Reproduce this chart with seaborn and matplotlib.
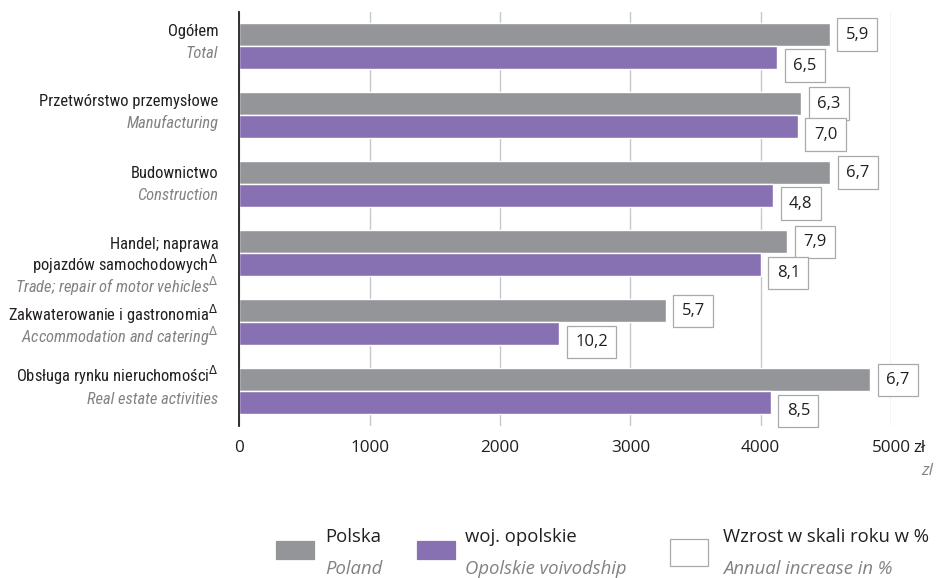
import matplotlib
matplotlib.use("Agg")
import matplotlib.pyplot as plt
from matplotlib import font_manager
from matplotlib.patches import Rectangle
import pandas as pd
import seaborn as sns

# --- data (average gross wages, zł) ---
labels_pl = [
    "Ogółem",
    "Przetwórstwo przemysłowe",
    "Budownictwo",
    "Handel; naprawa\npojazdów samochodowych$^{\\Delta}$",
    "Zakwaterowanie i gastronomia$^{\\Delta}$",
    "Obsługa rynku nieruchomości$^{\\Delta}$",
]
labels_en = [
    "Total",
    "Manufacturing",
    "Construction",
    "Trade; repair of motor vehicles$^{\\Delta}$",
    "Accommodation and catering$^{\\Delta}$",
    "Real estate activities",
]
polska = [4530, 4310, 4535, 4205, 3270, 4840]
opolskie = [4125, 4285, 4095, 4000, 2455, 4077]
growth_polska = [5.9, 6.3, 6.7, 7.9, 5.7, 6.7]
growth_opolskie = [6.5, 7.0, 4.8, 8.1, 10.2, 8.5]
series = ["Polska", "woj. opolskie"]
xticks = [0, 1000, 2000, 3000, 4000, 5000]

GRAY = "#939598"
PURPLE = "#8871b2"
DARK = "#231f20"
EN_GRAY = "#808285"

sns.set_style("white")
names = {f.name for f in font_manager.fontManager.ttflist}
narrow_choices = [n for n in ["Liberation Sans Narrow", "Arial Narrow", "Roboto Condensed",
                              "Open Sans Condensed"] if n in names]
if narrow_choices:
    NARROW, LABEL_SIZE = narrow_choices[0], 11.9
else:
    NARROW, LABEL_SIZE = "Liberation Sans", 10.7
plt.rcParams["font.family"] = ["Open Sans", "DejaVu Sans"]
plt.rcParams["mathtext.fontset"] = "dejavusans"

df = pd.DataFrame({
    "section": labels_pl * 2,
    "series": [series[0]] * len(polska) + [series[1]] * len(opolskie),
    "value": polska + opolskie,
})

fig, ax = plt.subplots(figsize=(9.36, 5.78), dpi=100)
fig.subplots_adjust(left=239.3 / 936, right=891 / 936, top=1 - 11.7 / 578, bottom=1 - 426 / 578)

sns.barplot(data=df, y="section", x="value", hue="series", orient="h",
            palette=[GRAY, PURPLE], saturation=1, width=0.666,
            legend=False, ax=ax, zorder=2)

ax.set_xlim(0, 5000)
ax.set_xticks(xticks)
ax.set_xticklabels([str(t) for t in xticks], fontsize=12.3, color=DARK)
ax.set_yticklabels([])
ax.set_xlabel("")
ax.set_ylabel("")
ax.tick_params(length=0)
ax.tick_params(axis="x", pad=10)
ax.grid(axis="x", color="#c7c8ca", lw=1, zorder=0)
ax.set_axisbelow(True)
for s in ["top", "right", "bottom"]:
    ax.spines[s].set_visible(False)
ax.spines["left"].set_color(DARK)
ax.spines["left"].set_linewidth(1.3)
ax.spines["left"].set_zorder(3)

# unit next to last tick
ax.annotate("zł", xy=(5000, 0), xycoords=("data", "axes fraction"),
            xytext=(22, -22), textcoords="offset pixels", ha="left", va="center",
            fontsize=12.3, color=DARK, annotation_clip=False)
ax.annotate("zl", xy=(5000, 0), xycoords=("data", "axes fraction"),
            xytext=(42, -45), textcoords="offset pixels", ha="right", va="center",
            fontsize=12.3, color=EN_GRAY, style="italic", annotation_clip=False)

# category labels (Polish + English)
label_shift = [-16, -15, -12, -10, -7, -15]
trans = ax.get_yaxis_transform()
for i, (pl, en, sh) in enumerate(zip(labels_pl, labels_en, label_shift)):
    lines = pl.split("\n")
    for k, line in enumerate(lines):
        ax.annotate(line, xy=(0, i), xycoords=trans,
                    xytext=(-21, -(sh + 22 * k) - 6), textcoords="offset pixels",
                    ha="right", va="baseline", fontsize=LABEL_SIZE, family=NARROW,
                    color=DARK, annotation_clip=False)
    ax.annotate(en, xy=(0, i), xycoords=trans,
                xytext=(-21, -(sh + 22 * len(lines)) - 6), textcoords="offset pixels",
                ha="right", va="baseline", fontsize=LABEL_SIZE, family=NARROW,
                color=EN_GRAY, style="italic", annotation_clip=False)

# annual growth boxes
for cont, rates, dy in zip(ax.containers, [growth_polska, growth_opolskie], [0, -8]):
    for bar, r in zip(cont, rates):
        ax.annotate(f"{r:.1f}".replace(".", ","),
                    xy=(bar.get_width(), bar.get_y() + bar.get_height() / 2),
                    xytext=(16, dy), textcoords="offset pixels",
                    ha="left", va="center", fontsize=12, color=DARK,
                    bbox=dict(boxstyle="square,pad=0.5", fc="white", ec="#a7a9ac", lw=0.9),
                    annotation_clip=False, zorder=4)

# legend
W, H = 936, 578
def fx(x):
    return x / W
def fy(y):
    return 1 - y / H

legend_items = [
    (276, 541, 38, 18, GRAY, GRAY, 325, "Polska", "Poland"),
    (417, 541, 38, 18, PURPLE, PURPLE, 465, "woj. opolskie", "Opolskie voivodship"),
    (670, 539, 38, 27, "white", "#a7a9ac", 723, "Wzrost w skali roku w %", "Annual increase in %"),
]
for x0, y0, w, h, fc, ec, tx, t1, t2 in legend_items:
    fig.add_artist(Rectangle((fx(x0), fy(y0 + h)), w / W, h / H,
                             transform=fig.transFigure, fc=fc, ec=ec, lw=0.9))
    fig.text(fx(tx), fy(537), t1, ha="left", va="center", fontsize=13.3, color=DARK)
    fig.text(fx(tx), fy(569), t2, ha="left", va="center", fontsize=13.3,
             color=EN_GRAY, style="italic")

fig.savefig("out.png", dpi=100)
